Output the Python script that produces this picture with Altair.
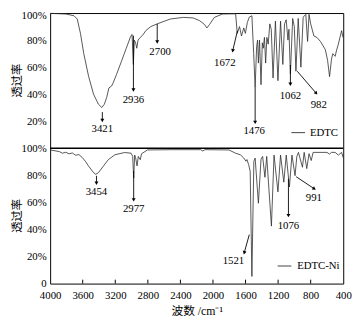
import math
import altair as alt
import pandas as pd

# ---------------- data ----------------
EDTC_wn = [4000, 3808, 3707, 3667, 3627, 3587, 3527, 3467, 3407, 3366, 3334, 3306, 3278, 3246, 3226, 3186,
           3126, 3066, 3014, 2994, 2978, 2966, 2950, 2936, 2920, 2893, 2865, 2825, 2765, 2685, 2524, 2364,
           2244, 2164, 2103, 2075, 2043, 1983, 1883, 1722, 1702, 1674, 1650, 1622, 1602, 1578, 1554, 1522,
           1500, 1482, 1464, 1452, 1442, 1428, 1410, 1394, 1382, 1368, 1353, 1338, 1322, 1302, 1284, 1262,
           1233, 1202, 1170, 1142, 1121, 1101, 1079, 1067, 1049, 1021, 1001, 981, 953, 920, 892, 860,
           838, 820, 800, 760, 724, 680, 620, 592, 568, 544, 528, 499, 484, 460, 420, 403]
EDTC_T = [99.8, 99.3, 98, 95.6, 84.7, 70, 53, 40, 32.6, 30.2, 32.6, 37.5, 44.7, 46, 48.4, 54.4,
          64, 73.8, 82.3, 84.2, 62, 80, 78, 74, 80, 82, 83.5, 87, 90, 92, 95.6, 96.8,
          96.4, 94.4, 91.5, 89, 91.5, 96.8, 99.3, 99.5, 85, 90, 83, 89, 85, 93, 97, 98,
          70, 45, 75, 80, 63, 80, 47, 78, 74, 82, 63, 82, 77, 92, 88, 52,
          94, 50, 94, 62, 92, 95, 80, 88, 55, 96, 90, 57, 96, 60, 97, 99,
          79, 99, 92, 83, 82, 79, 73, 65, 53, 66, 70, 68, 72, 77, 87, 82]

NI_wn = [4000, 3888, 3848, 3808, 3768, 3728, 3687, 3647, 3607, 3567, 3527, 3467, 3439, 3407, 3347, 3286,
         3206, 3086, 3006, 2986, 2974, 2962, 2950, 2933, 2917, 2893, 2877, 2805, 2500, 2150, 2124, 2100,
         1803, 1723, 1663, 1623, 1595, 1583, 1562, 1543, 1522, 1498, 1482, 1442, 1410, 1390, 1362, 1340,
         1282, 1250, 1202, 1170, 1130, 1100, 1061, 1030, 992, 970, 950, 901, 880, 848, 820, 793,
         770, 600, 568, 545, 500, 460, 420, 400]
NI_T = [98.8, 97.6, 96.4, 97.1, 95.9, 96.6, 94.9, 95.4, 93.3, 90.4, 86.8, 82, 80.8, 82, 86.8, 91.6,
        95.2, 96.9, 96.4, 94, 78, 95, 93, 87, 94, 91.6, 96, 98.8, 99, 99, 98, 99,
        98.8, 96.4, 95.2, 92.9, 90.5, 91.7, 88, 83, 5.3, 90.4, 92.8, 59.4, 92, 94, 78.6, 94,
        42.5, 95, 67.8, 95, 75, 95, 71.4, 95, 79.8, 94, 97, 86, 97, 85, 96, 91,
        97, 97, 95.7, 97, 97, 95, 97, 93]

# peak annotations: panel, label, text position, arrow start -> arrow end
ANN_panel = ["EDTC"] * 7 + ["EDTC-Ni"] * 5
ANN_label = ["3421", "2936", "2700", "1672", "1476", "1062", "982",
             "3454", "2977", "1521", "1076", "991"]
ANN_tw = [3359, 2977, 2649, 1855, 1494, 1049, 700, 3431, 2974, 1749, 1073, 761]
ANN_tT = [14.5, 35.5, 71, 63, 13, 39, 31.9, 67.4, 55, 16.7, 42.8, 63]
ANN_w1 = [3359, 2977, 2685, 1699, 1482, 1049, 965, 3431, 2974, 1554, 1073, 978]
ANN_T1 = [26.8, 83.3, 92, 87, 45, 61.6, 57, 79.7, 83.3, 36.2, 77.5, 79]
ANN_w2 = [3359, 2977, 2685, 1756, 1482, 1049, 736, 3431, 2974, 1614, 1073, 761]
ANN_T2 = [21, 43.5, 79, 72.5, 19.6, 47.8, 41, 74.6, 62.3, 23.2, 50.7, 70.3]

LEG_name = ["EDTC", "EDTC-Ni"]
LEG_w1 = [1037, 1206]
LEG_w2 = [869, 1037]
LEG_wt = [809, 966]
LEG_T = [11.6, 13]

X_TICKS = [4000, 3600, 3200, 2800, 2400, 2000, 1600, 1200, 800, 400]
Y_TICKS = [0, 20, 40, 60, 80, 100, 120, 140, 160, 180, 200]

# ---------------- layout ----------------
W, H = 299, 276
PX_X = W / 3600.0
PX_Y = H / 200.0
OFFSET = {"EDTC": 100, "EDTC-Ni": 0}   # upper panel stacked above lower panel
SERIF = "Liberation Serif"
CJK = "Noto Sans CJK SC"
INK = "#000000"
LINE = "#2b2b2b"

spec = pd.concat([
    pd.DataFrame({"series": "EDTC", "w": EDTC_wn, "t": [v + 100 for v in EDTC_T]}),
    pd.DataFrame({"series": "EDTC-Ni", "w": NI_wn, "t": NI_T}),
], ignore_index=True)

ann = pd.DataFrame({
    "label": ANN_label,
    "w": ANN_tw,
    "t": [v + OFFSET[p] for v, p in zip(ANN_tT, ANN_panel)],
    "w1": ANN_w1,
    "t1": [v + OFFSET[p] for v, p in zip(ANN_T1, ANN_panel)],
    "w2": ANN_w2,
    "t2": [v + OFFSET[p] for v, p in zip(ANN_T2, ANN_panel)],
})
angs = []
for a, b, c, d in zip(ann.w1, ann.t1, ann.w2, ann.t2):
    dx = -(c - a) * PX_X
    dy = -(d - b) * PX_Y
    angs.append(math.degrees(math.atan2(dx, -dy)) % 360)
ann["ang"] = angs

leg = pd.DataFrame({
    "name": LEG_name, "w1": LEG_w1, "w2": LEG_w2, "wt": LEG_wt,
    "t": [v + OFFSET[n] for v, n in zip(LEG_T, LEG_name)],
})

xs = alt.Scale(domain=[400, 4000], reverse=True, nice=False, zero=False)
ys = alt.Scale(domain=[0, 200], nice=False, zero=False)

x_axis = alt.Axis(values=X_TICKS, format="d", labelPadding=6,
                  title="波数 /cm⁻¹", titlePadding=6)
y_axis = alt.Axis(values=Y_TICKS, labelPadding=4, title=None,
                  labelOffset={"condition": {"test": "datum.value == 200", "value": 3}, "value": 0},
                  labelExpr="datum.value == 0 ? '0' : (datum.value > 100 ? datum.value - 100 : datum.value) + '%'")


def X(field):
    return alt.X(field, scale=xs, axis=x_axis)


def Y(field):
    return alt.Y(field, scale=ys, axis=y_axis)


lines = alt.Chart(spec).mark_line(strokeWidth=0.8, color=LINE).encode(
    x=X("w:Q"),
    y=Y("t:Q"),
    detail="series:N",
    order=alt.Order("w:Q", sort="descending"),
)

divider = alt.Chart(pd.DataFrame({"t": [100]})).mark_rule(color=INK, strokeWidth=1.6).encode(
    y=Y("t:Q"), x=alt.value(0), x2=alt.value(W))

ticks = alt.Chart(pd.DataFrame({"w": X_TICKS[1:-1]})).mark_rule(color=INK, strokeWidth=1).encode(
    x=X("w:Q"), y=alt.value(H), y2=alt.value(H - 4))

shafts = alt.Chart(ann).mark_rule(color=INK, strokeWidth=0.9).encode(
    x=X("w1:Q"), x2="w2:Q", y=Y("t1:Q"), y2="t2:Q")

heads = alt.Chart(ann).mark_point(shape="triangle", filled=True, size=16, color=INK, opacity=1).encode(
    x=X("w2:Q"), y=Y("t2:Q"), angle=alt.Angle("ang:Q", scale=None))

labels = alt.Chart(ann).mark_text(font=SERIF, fontSize=11, color=INK, align="center", baseline="middle").encode(
    x=X("w:Q"), y=Y("t:Q"), text="label:N")

leg_lines = alt.Chart(leg).mark_rule(color=LINE, strokeWidth=0.9).encode(
    x=X("w1:Q"), x2="w2:Q", y=Y("t:Q"))
leg_text = alt.Chart(leg).mark_text(font=SERIF, fontSize=11, color=INK, align="left", baseline="middle").encode(
    x=X("wt:Q"), y=Y("t:Q"), text="name:N")

ytitles = alt.Chart(pd.DataFrame({"t": [150, 50], "s": ["透过率", "透过率"]})).mark_text(
    font=CJK, fontSize=11.5, color=INK, angle=270, align="center", baseline="middle").encode(
    x=alt.value(-33), y=Y("t:Q"), text="s:N")

chart = alt.layer(lines, divider, ticks, shafts, heads, labels, leg_lines, leg_text, ytitles).properties(
    width=W, height=H,
    autosize=alt.AutoSizeParams(type="none"),
    padding={"left": 43, "top": 2, "right": 12, "bottom": 35},
    background="white",
).configure_view(
    stroke=INK, strokeWidth=1
).configure_axis(
    labelFont=SERIF, labelFontSize=11, labelColor=INK, ticks=False, tickSize=0,
    domain=False, grid=False, labelOverlap=False, labelFlush=False,
    titleFont=f"{SERIF}, {CJK}", titleFontSize=12, titleFontWeight="normal", titleColor=INK,
)

chart.save("out.html", embed_options={"renderer": "svg", "actions": False})
